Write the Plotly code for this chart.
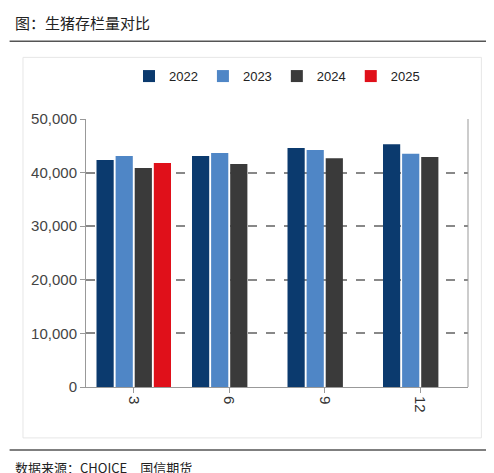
import plotly.graph_objects as go

categories = ["3", "6", "9", "12"]
years = ["2022", "2023", "2024", "2025"]
v2022 = [42350, 43100, 44600, 45300]
v2023 = [43100, 43650, 44200, 43500]
v2024 = [40860, 41600, 42700, 42900]
v2025 = [41800, None, None, None]
colors = ["#0b3a6e", "#4f86c6", "#3a3a3a", "#e0101a"]

fig = go.Figure()
for name, vals, c in zip(years, [v2022, v2023, v2024, v2025], colors):
    fig.add_bar(name=name, x=categories, y=vals, marker_color=c, marker_line_width=0)

fig.update_layout(
    width=494, height=473, barmode="group", bargap=0.2, bargroupgap=0.1,
    paper_bgcolor="white", plot_bgcolor="white",
    margin=dict(l=78, r=34, t=111, b=94, autoexpand=False),
    font=dict(family="Liberation Sans, Arial", size=14, color="#444"),
    legend=dict(orientation="h", x=0.5, xanchor="center", y=1.16, yanchor="middle",
                font=dict(size=13, color="#222"), itemwidth=30, traceorder="normal"),
    showlegend=True,
)
fig.update_xaxes(type="category", tickangle=90, showline=True, linecolor="#999",
                 ticks="outside", ticklen=5, tickcolor="#999", tickfont=dict(size=15, color="#333"))
fig.update_yaxes(range=[0, 50000], dtick=10000, tickformat=",", showgrid=True,
                 gridcolor="#888", griddash="dash", gridwidth=1.5,
                 showline=True, linecolor="#999", ticks="outside", ticklen=5, tickcolor="#999",
                 tickfont=dict(size=15, color="#444"), zeroline=False)
fig.add_shape(type="line", xref="paper", yref="paper", x0=1, x1=1, y0=0, y1=1,
              line=dict(color="#999", width=1))
fig.add_shape(type="rect", xref="paper", yref="paper", x0=-0.165, x1=1.035, y0=-0.19, y1=1.23,
              line=dict(color="#e6e6e6", width=1))
fig.add_annotation(text="图：生猪存栏量对比", xref="paper", yref="paper", x=-0.19, y=1.36,
                   xanchor="left", yanchor="middle", showarrow=False,
                   font=dict(family="Noto Sans CJK SC", size=15, color="#222"))
fig.add_shape(type="line", xref="paper", yref="paper", x0=-0.2, x1=1.09, y0=1.29, y1=1.29,
              line=dict(color="#555", width=1.5))
fig.add_shape(type="line", xref="paper", yref="paper", x0=-0.2, x1=1.09, y0=-0.235, y1=-0.235,
              line=dict(color="#555", width=1.5))
fig.add_annotation(text="数据来源：CHOICE　国信期货", xref="paper", yref="paper", x=-0.19, y=-0.3,
                   xanchor="left", yanchor="middle", showarrow=False,
                   font=dict(family="Noto Sans CJK SC", size=13, color="#222"))
fig.write_html("out.html")
